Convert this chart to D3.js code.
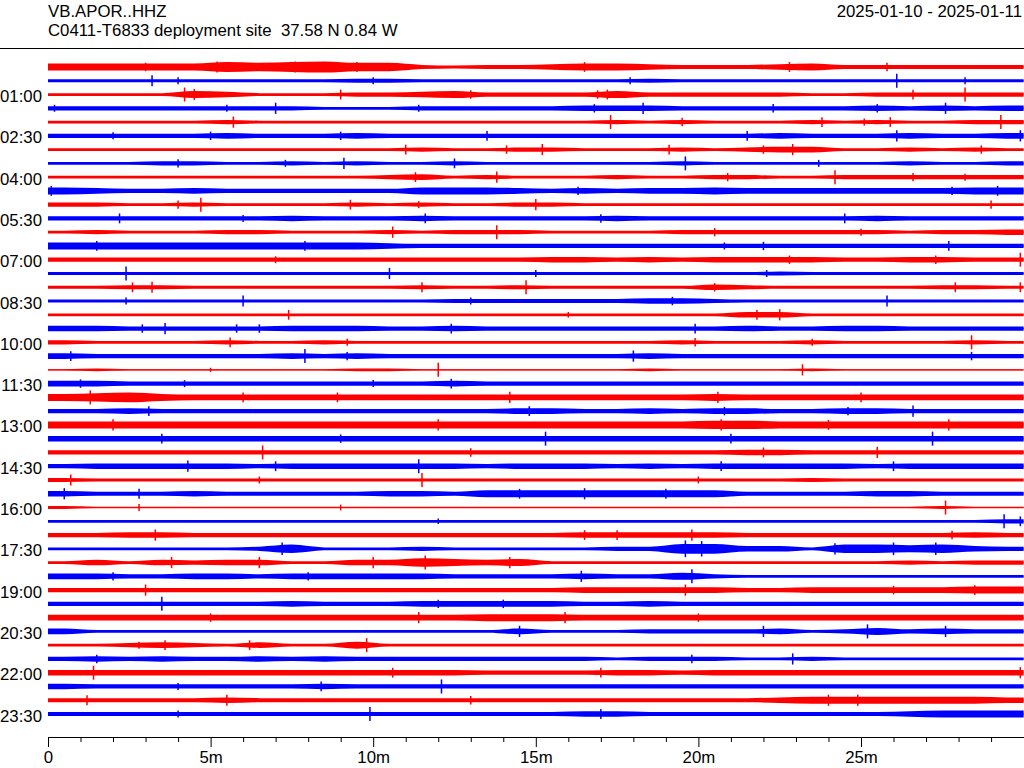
<!DOCTYPE html>
<html><head><meta charset="utf-8">
<script src="https://cdn.jsdelivr.net/npm/d3@7"></script>
<style>
body{margin:0;background:#fff}
svg{display:block}
text{font-family:"Liberation Sans",Arial,sans-serif;fill:#000;white-space:pre}
</style>
</head><body>
<svg id="chart" width="1024" height="768"></svg>
<script>
// ---------- data ----------
const stationTitle = "VB.APOR..HHZ";
const siteTitle = "C0411-T6833 deployment site  37.58 N 0.84 W";
const dateRange = "2025-01-10 - 2025-01-11";

const rowLabels = ["01:00","02:30","04:00","05:30","07:00","08:30","10:00","11:30",
                   "13:00","14:30","16:00","17:30","19:00","20:30","22:00","23:30"];
const labelRows = [2,5,8,11,14,17,20,23,26,29,32,35,38,41,44,47];

const majorTicks = [0,5,10,15,20,25];
const majorTickLabels = ["0","5m","10m","15m","20m","25m"];
const minorTicks = [1,2,3,4,6,7,8,9,11,12,13,14,16,17,18,19,21,22,23,24,26,27,28,29];

const traceColors = ["#ff0000","#0000ff"];

// envelope amplitude per one-minute bin (30 bins per 30-minute row)
const envelopes = [
"555557678663233455433345333333",
"222222222332222222322222222222",
"222254222334533335333332233333",
"333333332223333344433333343434",
"222223222222222223232223232233",
"333334333433333333333343334334",
"222222222223223322232344223232",
"222332232322322222232222223223",
"222222222234232223223322333333",
"543343333335554343445444444455",
"332232222323223322222222222222",
"333333343334333334333333343333",
"232223322232333222233333332334",
"555555555543333333333333333333",
"333333333333333443434444334433",
"222222222222222222222232222222",
"223322222223223222224322222332",
"222222222222333333443222222222",
"222222222222222222222442222222",
"443333344433433333333433443333",
"322223223222222222232223222232",
"433333343433333333433333333333",
"121111111221111111211112111111",
"443333333333433333333333333333",
"567544444444444444445444444444",
"334333333333334433434433443333",
"555555555555555555556655555555",
"444444444444444444444444444444",
"333333333333333333333443333333",
"344444344444434443434444434444",
"322222222222222222222223222222",
"433343333344355555555333344333",
"211111111111111111111111111211",
"222222222222222222222222222223",
"334433333333333344444333333343",
"222222362223222223377442665643",
"242434422446545222222222223233",
"443344344444333343353222222222",
"333333333333333344444334444455",
"333333343334444433433333333333",
"444444444444455544444444444444",
"422222222222224222333342353433",
"223432422522222222222222222222",
"343433434333333332333223222222",
"444444444444433334434444444444",
"433333334333333333333333333333",
"333334333333333333333345555554",
"333333333333333344333333334555"
];

// notable spikes: [row, minute, amplitude]
const spikes = [
[0,5.2,8],[0,7.6,8],[0,22.8,7],[0,3.0,6],[0,9.5,7],[0,16.5,7],[0,25.8,6],
[1,3.2,8],[1,26.1,10],[1,28.2,5],[1,17.9,5],[1,4.0,5],[1,10.0,5],
[2,4.2,10],[2,9.0,7],[2,26.6,7],[2,28.2,10],[2,17.2,7],[2,4.5,8],[2,13.0,6],[2,16.9,6],
[3,7.0,8],[3,18.3,8],[3,27.6,8],[3,11.4,5],[3,0.2,5],[3,5.5,5],[3,16.8,6],[3,22.3,6],[3,25.5,6],
[4,5.7,8],[4,17.3,10],[4,23.8,7],[4,25.9,7],[4,29.3,10],[4,19.5,6],[4,25.1,5],
[5,13.5,7],[5,21.5,7],[5,26.1,8],[5,29.9,8],[5,5.0,6],[5,9.0,6],[5,2.0,5],
[6,11.0,7],[6,15.2,8],[6,19.1,7],[6,22.9,8],[6,14.1,6],[6,22.0,6],[6,28.7,6],
[7,9.1,8],[7,19.6,10],[7,12.5,7],[7,4.0,6],[7,7.3,5],[7,23.7,5],
[8,11.3,7],[8,13.8,8],[8,24.2,10],[8,20.9,6],[8,26.6,6],[8,28.2,5],
[9,0.1,7],[9,29.2,7],[9,16.3,6],[9,27.8,6],
[10,4.7,10],[10,15.0,8],[10,9.3,7],[10,4.0,6],[10,11.4,5],[10,29.0,6],
[11,2.2,7],[11,11.6,7],[11,24.5,7],[11,17.0,6],[11,6.0,5],
[12,10.6,8],[12,13.8,10],[12,20.5,6],[12,25.0,5],
[13,1.5,7],[13,7.9,7],[13,27.7,7],[13,22.0,6],[13,20.8,5],
[14,29.9,10],[14,7.0,5],[14,22.8,6],[14,27.3,6],
[15,2.4,10],[15,10.5,8],[15,15.0,5],[15,22.1,5],
[16,3.2,8],[16,11.5,7],[16,14.7,10],[16,29.9,7],[16,2.6,7],[16,20.5,6],[16,27.9,7],
[17,2.4,5],[17,6.0,8],[17,25.8,8],[17,19.2,6],[17,13.0,5],
[18,7.4,7],[18,22.5,8],[18,21.8,7],[18,16.0,4],
[19,3.6,8],[19,12.4,7],[19,19.9,7],[19,2.9,6],[19,5.8,6],[19,6.5,6],
[20,5.6,7],[20,9.2,5],[20,28.4,10],[20,19.9,6],[20,23.5,5],
[21,7.9,10],[21,18.0,8],[21,0.7,7],[21,9.2,6],[21,28.4,6],
[22,12.0,10],[22,23.2,8],[22,5.0,3],
[23,4.2,5],[23,12.4,7],[23,1.0,6],[23,10.0,5],
[24,1.3,10],[24,14.2,8],[24,20.6,8],[24,8.9,7],[24,6.0,7],[24,25.0,7],
[25,3.1,7],[25,26.6,8],[25,14.8,7],[25,24.6,6],[25,20.8,6],
[26,2.0,8],[26,20.7,8],[26,27.7,8],[26,12.0,8],[26,24.0,7],
[27,15.3,10],[27,27.2,10],[27,3.5,7],[27,9.0,6],[27,21.0,7],
[28,6.6,10],[28,25.5,8],[28,22.0,7],[28,13.0,6],
[29,4.3,8],[29,11.4,10],[29,20.7,7],[29,7.0,7],[29,26.0,7],
[30,0.7,8],[30,11.5,10],[30,6.5,5],[30,20.0,5],
[31,0.5,8],[31,2.8,7],[31,16.5,8],[31,14.5,7],[31,19.0,7],
[32,27.6,10],[32,2.8,5],[32,9.0,4],
[33,29.4,10],[33,29.9,7],[33,12.0,4],
[34,3.3,8],[34,19.8,8],[34,16.5,7],[34,17.5,7],[34,27.8,6],
[35,19.6,12],[35,24.2,8],[35,20.1,11],[35,26.0,9],[35,27.3,9],[35,7.2,9],
[36,11.6,10],[36,6.5,8],[36,3.8,8],[36,10.0,8],[36,14.2,8],
[37,16.4,8],[37,19.8,10],[37,2.0,6],[37,8.0,6],
[38,3.0,8],[38,19.6,8],[38,26.0,6],[38,28.5,7],
[39,3.5,10],[39,12.0,6],[39,14.0,6],
[40,11.4,8],[40,15.9,8],[40,5.0,6],[40,20.0,6],
[41,22.0,8],[41,25.2,10],[41,14.5,8],[41,27.6,8],
[42,9.8,10],[42,6.2,7],[42,3.6,7],[42,2.8,5],
[43,22.9,8],[43,1.5,6],[43,19.8,6],
[44,1.4,10],[44,29.9,8],[44,10.6,7],[44,17.0,7],
[45,12.1,10],[45,8.4,7],[45,4.0,5],
[46,5.5,8],[46,1.2,7],[46,24.9,8],[46,13.0,6],[46,24.0,8],
[47,9.9,10],[47,17.0,7],[47,4.0,5]
];

// ---------- drawing ----------
const svg = d3.select("#chart");
const W = 1024, H = 768;
const FONT = 16.8;

const x = d3.scaleLinear().domain([0,30]).range([48,1023.6]);
const rowY = d3.scaleLinear().domain([0,47]).range([67,714]);
const amp = d3.scaleLinear().domain([0,10]).range([0,7]);

// header
svg.append("text").attr("x",48).attr("y",17).attr("font-size",FONT).text(stationTitle);
svg.append("text").attr("x",48).attr("y",36).attr("font-size",FONT).text(siteTitle);
svg.append("text").attr("x",1022).attr("y",17).attr("font-size",FONT)
   .attr("text-anchor","end").text(dateRange);
svg.append("line").attr("x1",0).attr("x2",W).attr("y1",48.5).attr("y2",48.5)
   .attr("stroke","#000").attr("stroke-width",1);

// traces
const traces = svg.append("g");
envelopes.forEach((s,row)=>{
  const vals = s.split("").map(Number);
  const pts = [[0,vals[0]]].concat(vals.map((v,i)=>[i+0.5,v]), [[30,vals[vals.length-1]]]);
  const y0 = rowY(row);
  const color = traceColors[row%2];
  const area = d3.area()
      .x(d=>x(d[0]))
      .y0(d=>y0+amp(d[1]))
      .y1(d=>y0-amp(d[1]))
      .curve(d3.curveMonotoneX);
  traces.append("path").attr("d",area(pts)).attr("fill",color);
  traces.append("line").attr("x1",x(0)).attr("x2",x(30))
     .attr("y1",y0).attr("y2",y0).attr("stroke",color).attr("stroke-width",1);
});
traces.selectAll("line.spike").data(spikes).join("line")
  .attr("class","spike")
  .attr("x1",d=>x(d[1])).attr("x2",d=>x(d[1]))
  .attr("y1",d=>rowY(d[0])-amp(d[2])).attr("y2",d=>rowY(d[0])+amp(d[2]))
  .attr("stroke",d=>traceColors[d[0]%2]).attr("stroke-width",1.5);

// row labels
svg.append("g").selectAll("text").data(labelRows).join("text")
  .attr("x",42).attr("y",d=>rowY(d)+2)
  .attr("text-anchor","end").attr("dominant-baseline","central")
  .attr("font-size",FONT)
  .text((d,i)=>rowLabels[i]);

// x axis
const axisY = 737;
svg.append("g").attr("transform",`translate(0,${axisY})`)
  .call(d3.axisBottom(x).tickValues(minorTicks).tickSize(5).tickSizeOuter(0).tickFormat(""));
const gMajor = svg.append("g").attr("transform",`translate(0,${axisY})`)
  .call(d3.axisBottom(x).tickValues(majorTicks).tickSize(10).tickSizeOuter(0).tickPadding(4)
        .tickFormat((d,i)=>majorTickLabels[i]));
gMajor.selectAll("text").attr("font-size",FONT).attr("font-family",'"Liberation Sans",Arial,sans-serif').attr("fill","#000");
svg.selectAll(".domain").attr("stroke","#000");
svg.selectAll(".tick line").attr("stroke","#000");
</script>
</body></html>
